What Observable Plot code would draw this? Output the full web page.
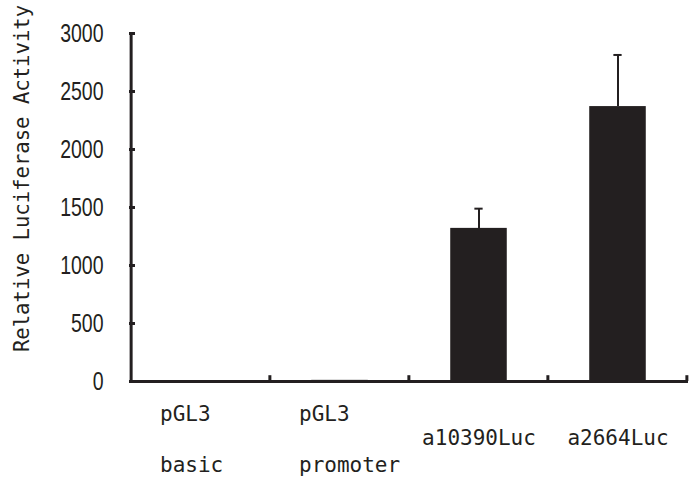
<!DOCTYPE html>
<html>
<head>
<meta charset="utf-8">
<script src="https://cdn.jsdelivr.net/npm/d3@7"></script>
<script src="https://cdn.jsdelivr.net/npm/@observablehq/plot@0.6"></script>
<style>
  html, body { margin: 0; padding: 0; background: #fff; }
</style>
</head>
<body>
<div id="chart"></div>
<script>
const categories = ["pGL3 basic", "pGL3 promoter", "a10390Luc", "a2664Luc"];
const labelLines = [["pGL3", "basic"], ["pGL3", "promoter"], ["a10390Luc"], ["a2664Luc"]];
const values = [2, 10, 1320, 2370];
const errors = [0, 0, 170, 445];
const yTicks = [0, 500, 1000, 1500, 2000, 2500, 3000];
const yLabel = "Relative Luciferase Activity";

const W = 690, H = 478;
const mL = 129, mR = 2, mT = 33, mB = 97;
const bw = (W - mL - mR) / categories.length;
const ink = "#231f20";
const mono = "DejaVu Sans Mono, Liberation Mono, monospace";
const sans = "Liberation Sans, Arial, sans-serif";

const data = categories.map((c, i) => ({
  cat: c, value: values[i], err: errors[i],
  label: labelLines[i].join("\n"), multi: labelLines[i].length > 1
}));

const chart = Plot.plot({
  width: W, height: H,
  marginLeft: mL, marginRight: mR, marginTop: mT, marginBottom: mB,
  style: {fontFamily: mono, fontSize: "21px", color: ink, background: "#fff"},
  x: {domain: categories, padding: 0, axis: null},
  y: {domain: [0, 3000], axis: null},
  marks: [
    Plot.barY(data, {x: "cat", y: "value", fill: ink, insetLeft: bw * 0.295, insetRight: bw * 0.295}),
    Plot.ruleX(data.filter(d => d.err > 0), {x: "cat", y1: "value", y2: d => d.value + d.err, stroke: ink, strokeWidth: 2}),
    Plot.tickY(data.filter(d => d.err > 0), {x: "cat", y: d => d.value + d.err, stroke: ink, strokeWidth: 2, insetLeft: bw / 2 - 4.5, insetRight: bw / 2 - 4.5}),
    Plot.axisY({ticks: yTicks, tickSize: -6, tickPadding: 32, tickFormat: d => String(d), label: null, stroke: ink, strokeWidth: 3, fill: ink, fontSize: 25, fontFamily: sans}),
    Plot.ruleY([0], {stroke: ink, strokeWidth: 3}),
    Plot.ruleX([categories[0]], {x: d => d, dx: -bw / 2, y1: 0, y2: 3000, stroke: ink, strokeWidth: 3}),
    Plot.ruleX(categories, {x: d => d, dx: bw / 2 - 1, y1: 0, y2: 50, stroke: ink, strokeWidth: 3}),
    Plot.text(data.filter(d => d.multi), {x: "cat", text: "label", frameAnchor: "bottom", lineAnchor: "top", textAnchor: "start", dx: -41, dy: 4, lineHeight: 2.4, fontSize: 21, fill: ink}),
    Plot.text(data.filter(d => !d.multi), {x: "cat", text: "label", frameAnchor: "bottom", lineAnchor: "middle", dy: 57, fontSize: 21, fill: ink}),
    Plot.text([yLabel], {frameAnchor: "left", textAnchor: "middle", rotate: -90, dx: -107, dy: -29, fontSize: 20.6, fill: ink})
  ]
});
// condense the y tick labels horizontally (narrow digits as in the reference)
d3.select(chart).selectAll("g[aria-label='y-axis tick label'] text").each(function () {
  const t = this.getAttribute("transform") || "";
  this.setAttribute("transform", t + " scale(0.78,1)");
});
document.getElementById("chart").appendChild(chart);
</script>
</body>
</html>
